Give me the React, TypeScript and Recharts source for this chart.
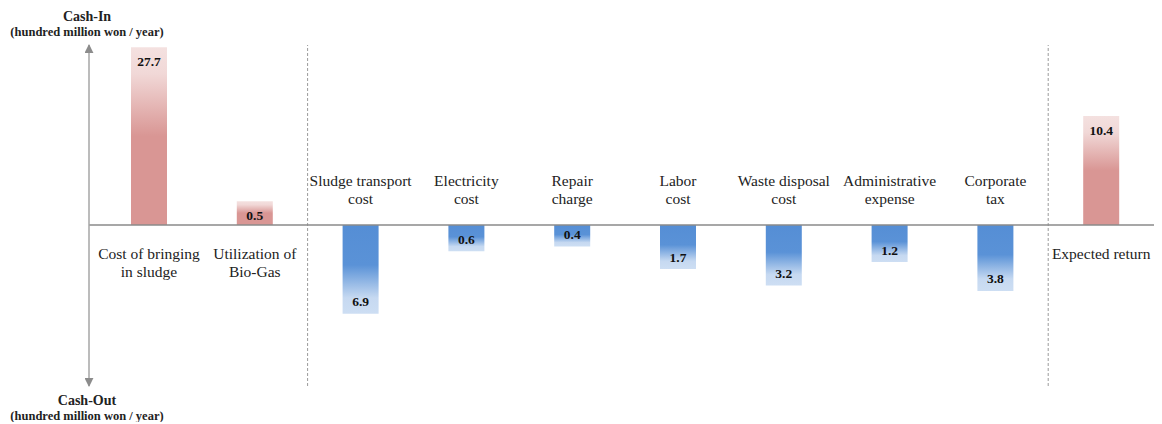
import React from 'react';
import { BarChart, Bar, XAxis, YAxis, ReferenceLine, Cell, LabelList } from 'recharts';

const categories = [
  'Cost of bringing\nin sludge',
  'Utilization of\nBio-Gas',
  'Sludge transport\ncost',
  'Electricity\ncost',
  'Repair\ncharge',
  'Labor\ncost',
  'Waste disposal\ncost',
  'Administrative\nexpense',
  'Corporate\ntax',
  'Expected return',
];
// + cash in, - cash out (hundred million won / year)
const cashFlow = [27.7, 0.5, -6.9, -0.6, -0.4, -1.7, -3.2, -1.2, -3.8, 10.4];
// categories that open a new section (dashed divider before them)
const sectionStarts = [categories[2], categories[9]];

const data = categories.map((name, i) => ({ name, value: cashFlow[i] }));

const SERIF = '"Liberation Serif", "Times New Roman", serif';

const ValueLabel = (props: any) => {
  const { x, y, width, height, value } = props;
  const top = Math.min(y, y + height);
  const bottom = Math.max(y, y + height);
  const cy = value >= 0 ? top + 14 : bottom - 12;
  return (
    <text x={x + width / 2} y={cy} textAnchor="middle" dominantBaseline="central"
      fontSize={13.5} fontWeight="bold" fill="#111" fontFamily={SERIF}>
      {Math.abs(value).toFixed(1)}
    </text>
  );
};

const CategoryLabel = (props: any) => {
  const { x, y, width, height, value } = props;
  const idx = categories.indexOf(value);
  const positive = cashFlow[idx] >= 0;
  const top = Math.min(y, y + height);
  const bottom = Math.max(y, y + height);
  const lines = String(value).split('\n');
  const cx = x + width / 2;
  return (
    <g>
      {lines.map((line, i) => {
        const cy = positive
          ? bottom + 28 + i * 18
          : top - 27 - (lines.length - 1 - i) * 18;
        return (
          <text key={i} x={cx} y={cy} textAnchor="middle" dominantBaseline="central"
            fontSize={15.5} fill="#222" fontFamily={SERIF}>
            {line}
          </text>
        );
      })}
    </g>
  );
};

const AxisTitles = (props: any) => {
  const { viewBox } = props;
  const ax = viewBox.x + viewBox.width - 2;
  const top = viewBox.y;
  const bottom = viewBox.y + viewBox.height;
  return (
    <g fontFamily={SERIF} fontWeight="bold" fill="#222" textAnchor="middle">
      <text x={ax} y={top - 29} fontSize={14} dominantBaseline="central">Cash-In</text>
      <text x={ax} y={top - 13} fontSize={12.5} dominantBaseline="central">(hundred million won / year)</text>
      <text x={ax} y={bottom + 14} fontSize={14} dominantBaseline="central">Cash-Out</text>
      <text x={ax} y={bottom + 30} fontSize={12.5} dominantBaseline="central">(hundred million won / year)</text>
    </g>
  );
};

const App = () => (
  <BarChart
    width={1150}
    height={414}
    data={data}
    margin={{ top: 37, right: 4, left: 0, bottom: 36 }}
  >
    <defs>
      <linearGradient id="cashIn" x1="0" y1="0" x2="0" y2="1">
        <stop offset="0" stopColor="#f4e1e0" />
        <stop offset="0.15" stopColor="#f1d8d7" />
        <stop offset="0.5" stopColor="#d99694" />
        <stop offset="1" stopColor="#d99694" />
      </linearGradient>
      <linearGradient id="cashOut" x1="0" y1="0" x2="0" y2="1">
        <stop offset="0" stopColor="#558ed5" />
        <stop offset="0.45" stopColor="#5a92d7" />
        <stop offset="0.82" stopColor="#c6d9f1" />
        <stop offset="1" stopColor="#cddef3" />
      </linearGradient>
      <marker id="arrowHead" viewBox="0 0 10 10" refX="9" refY="5" markerWidth="9" markerHeight="9"
        markerUnits="userSpaceOnUse" orient="auto-start-reverse">
        <path d="M0,0 L10,5 L0,10 Z" fill="#8c8c8c" />
      </marker>
    </defs>
    <XAxis dataKey="name" hide padding={{ left: 7, right: 0 }} />
    <YAxis
      type="number"
      scale="sqrt"
      domain={[-22.7, 28.4]}
      allowDataOverflow
      width={81}
      tick={false}
      tickLine={false}
      axisLine={{ stroke: '#a6a6a6', strokeWidth: 1.5, markerStart: 'url(#arrowHead)', markerEnd: 'url(#arrowHead)' }}
      label={{ content: AxisTitles }}
    />
    {sectionStarts.map((c) => (
      <ReferenceLine key={c} x={c} position="start" stroke="#9a9a9a" strokeDasharray="3 2" />
    ))}
    <ReferenceLine y={0} stroke="#8a8a8a" strokeWidth={1.5} />
    <Bar dataKey="value" barSize={36} isAnimationActive={false}>
      {data.map((d, i) => (
        <Cell key={i} fill={d.value >= 0 ? 'url(#cashIn)' : 'url(#cashOut)'} />
      ))}
      <LabelList dataKey="value" content={ValueLabel} />
      <LabelList dataKey="name" content={CategoryLabel} />
    </Bar>
  </BarChart>
);

export default App;
